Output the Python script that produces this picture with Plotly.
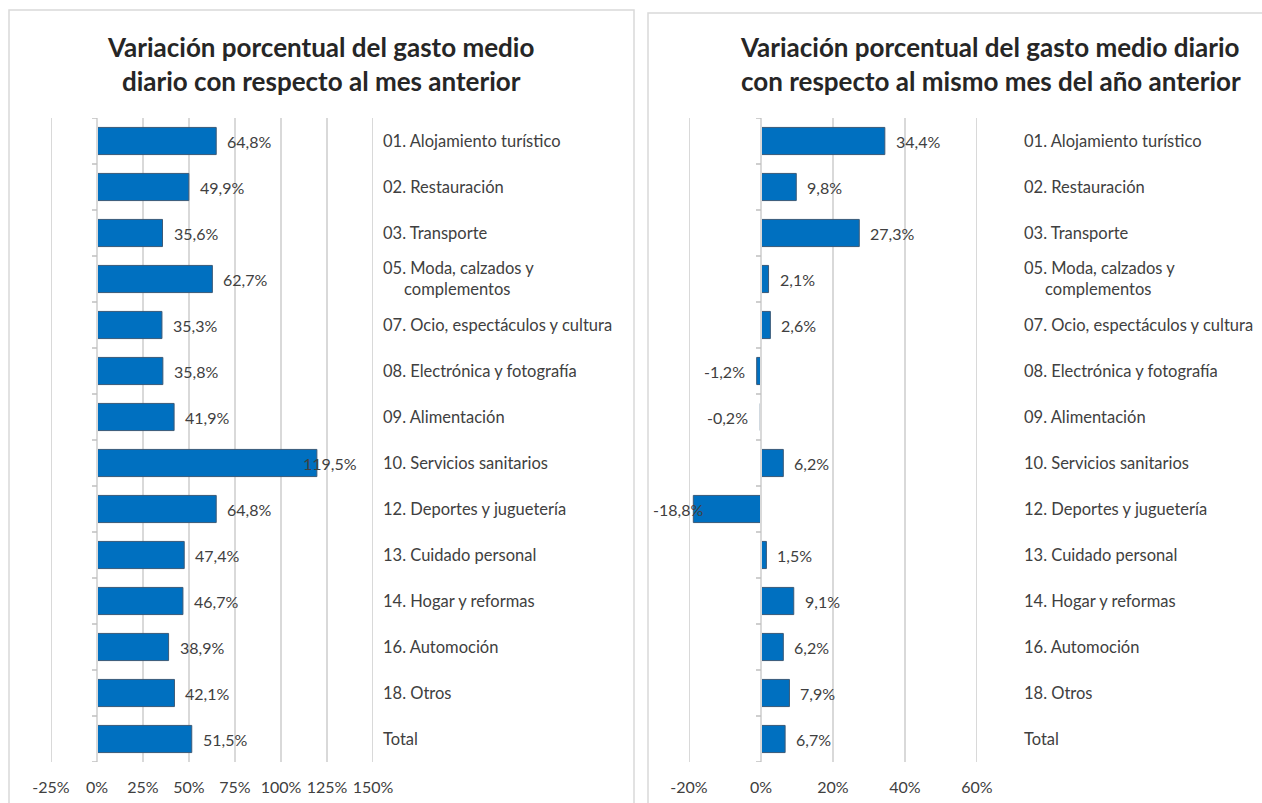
import plotly.graph_objects as go

# ---------------- data ----------------
categories = [
    "01. Alojamiento turístico",
    "02. Restauración",
    "03. Transporte",
    "05. Moda, calzados y<br>\u00a0\u00a0\u00a0\u00a0\u00a0complementos",
    "07. Ocio, espectáculos y cultura",
    "08. Electrónica y fotografía",
    "09. Alimentación",
    "10. Servicios sanitarios",
    "12. Deportes y juguetería",
    "13. Cuidado personal",
    "14. Hogar y reformas",
    "16. Automoción",
    "18. Otros",
    "Total",
]
var_mes_anterior = [64.8, 49.9, 35.6, 62.7, 35.3, 35.8, 41.9, 119.5, 64.8, 47.4, 46.7, 38.9, 42.1, 51.5]
var_anio_anterior = [34.4, 9.8, 27.3, 2.1, 2.6, -1.2, -0.2, 6.2, -18.8, 1.5, 9.1, 6.2, 7.9, 6.7]
ticks_left = [-25, 0, 25, 50, 75, 100, 125, 150]
ticks_right = [-20, 0, 20, 40, 60]
range_left = [-25, 150]
range_right = [-20, 60]
title_left = "Variación porcentual del gasto medio<br>diario con respecto al mes anterior"
title_right = "Variación porcentual del gasto medio diario<br>con respecto al mismo mes del año anterior"

# ---------------- styling ----------------
W, H = 1262, 803
FONT = "Lato, 'Open Sans', sans-serif"
BAR_FILL = "#0070C0"
BAR_EDGE = "#3B5A78"
GRID = "#D9D9D9"
BORDER = "#D9D9D9"
TXT = "#404040"
VAL_SIZE = 16
LAB_SIZE = 16.5
BAR_W = 0.59


def px(x):
    return x / W


def py(y):
    return 1 - y / H


def pct(v):
    return f"{v:.1f}%".replace(".", ",")


ypos = list(range(len(categories)))
bounds = [i - 0.5 for i in range(len(categories) + 1)]
yrange = [len(categories) - 0.5, -0.5]

fig = go.Figure()

panels = [
    (var_mes_anterior, "x", "y", range_left, ticks_left, 35),
    (var_anio_anterior, "x2", "y2", range_right, ticks_right, 14),
]
for vals, xa, ya, rng, tks, room in panels:
    # vertical gridlines at the tick values (behind the bars)
    for t in tks:
        fig.add_shape(type="line", xref=xa, yref=f"{ya} domain", x0=t, x1=t, y0=0, y1=1,
                      line=dict(color=GRID, width=2), layer="below")
    # category axis line at 0 with small ticks between categories
    fig.add_shape(type="line", xref=xa, yref=f"{ya} domain", x0=0, x1=0, y0=0, y1=1,
                  line=dict(color=GRID, width=2), layer="above")
    for b in bounds:
        fig.add_shape(type="line", xref=xa, yref=ya, xsizemode="pixel", xanchor=0,
                      x0=-5, x1=0, y0=b, y1=b,
                      line=dict(color="#BFBFBF", width=1.5), layer="above")

    fig.add_trace(go.Bar(
        x=vals, y=ypos, orientation="h", xaxis=xa, yaxis=ya,
        width=BAR_W,
        marker=dict(color=BAR_FILL, line=dict(color=BAR_EDGE, width=1)),
        showlegend=False, hoverinfo="skip",
    ))

    # value labels (outside end); labels that would not fit inside the axis range are pulled back
    for i, v in enumerate(vals):
        overflow = (v > 0 and v + room > rng[1]) or (v < 0 and v - room < rng[0])
        if v >= 0 and not overflow:
            xx, anc, sh = v, "left", 9
        elif v >= 0:
            xx, anc, sh = rng[1], "right", -14
        elif not overflow:
            xx, anc, sh = v, "right", -10
        else:
            xx, anc, sh = v, "right", 12
        fig.add_annotation(x=xx, y=i, xref=xa, yref=ya, text=pct(v), showarrow=False,
                           xanchor=anc, yanchor="middle", xshift=sh,
                           font=dict(family=FONT, size=VAL_SIZE, color=TXT))

ydom = [py(762), py(118)]
ldom = [px(51), px(373)]
rdom = [px(689), px(977)]

xcommon = dict(showgrid=False, zeroline=False,
               tickmode="array", showline=False, automargin=False,
               tickfont=dict(family=FONT, size=16, color=TXT), ticks="",
               ticklabelstandoff=14)

ycat = dict(domain=ydom, range=yrange, side="right",
            tickmode="array", tickvals=ypos, ticktext=categories,
            showgrid=False, zeroline=False, showline=False, ticks="", automargin=False,
            tickfont=dict(family=FONT, size=LAB_SIZE, color=TXT))

fig.update_layout(
    template="none",
    width=W, height=H, margin=dict(l=0, r=0, t=0, b=0, pad=0, autoexpand=False),
    plot_bgcolor="rgba(0,0,0,0)", paper_bgcolor="white",
    xaxis=dict(domain=ldom, range=range_left, tickvals=ticks_left,
               ticktext=[f"{t}%" for t in ticks_left], anchor="y", **xcommon),
    xaxis2=dict(domain=rdom, range=range_right, tickvals=ticks_right,
                ticktext=[f"{t}%" for t in ticks_right], anchor="y2", **xcommon),
    yaxis=dict(anchor="x", ticklabelstandoff=9, **ycat),
    yaxis2=dict(anchor="x2", ticklabelstandoff=46, **ycat),
)

# panel borders
fig.add_shape(type="rect", xref="paper", yref="paper", x0=px(9), x1=px(634), y0=py(H + 10), y1=py(10),
              line=dict(color=BORDER, width=1.5), fillcolor="rgba(0,0,0,0)", layer="below")
fig.add_shape(type="rect", xref="paper", yref="paper", x0=px(648), x1=px(W + 10), y0=py(H + 10), y1=py(13),
              line=dict(color=BORDER, width=1.5), fillcolor="rgba(0,0,0,0)", layer="below")

# titles
fig.add_annotation(text=title_left, xref="paper", yref="paper", x=px(320), y=py(64),
                   xanchor="center", yanchor="middle", showarrow=False, align="center",
                   font=dict(family=FONT, size=26, color="#262626", weight="bold"))
fig.add_annotation(text=title_right, xref="paper", yref="paper", x=px(738), y=py(64),
                   xanchor="left", yanchor="middle", showarrow=False, align="left",
                   font=dict(family=FONT, size=26, color="#262626", weight="bold"))

fig.write_html("out.html", config={"displayModeBar": False},
               post_script="document.body.style.margin='0';document.body.style.overflow='hidden';")
